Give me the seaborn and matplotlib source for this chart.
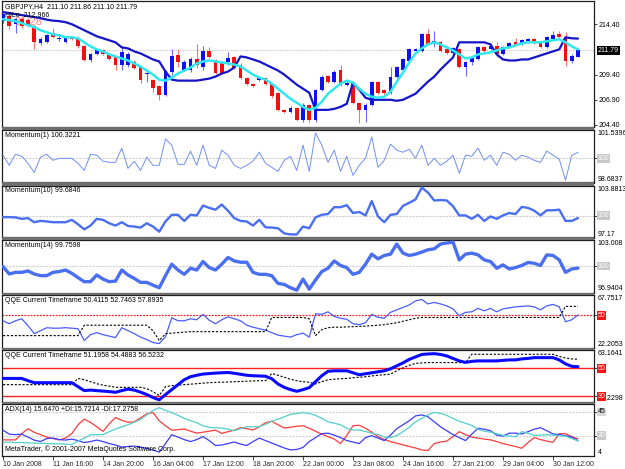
import matplotlib
matplotlib.use("Agg")
import matplotlib.pyplot as plt
import matplotlib.transforms as mtransforms
from matplotlib.patches import Rectangle
import numpy as np
import seaborn as sns

# ---- values (GBPJPY H4, 93 bars) ----
x_labels = ["10 Jan 2008", "11 Jan 16:00", "14 Jan 20:00", "16 Jan 04:00", "17 Jan 12:00",
            "18 Jan 20:00", "22 Jan 00:00", "23 Jan 08:00", "24 Jan 16:00", "27 Jan 21:00",
            "29 Jan 04:00", "30 Jan 12:00"]
x_label_bars = [0, 8, 16, 24, 32, 40, 48, 56, 64, 72, 80, 88]

opens = [214.70, 215.20, 214.40, 214.90, 214.80, 214.20, 212.50, 212.60, 213.50, 212.90,
         212.60, 213.10, 213.00, 212.20, 210.80, 211.40, 211.80, 211.40, 211.10, 210.40,
         210.40, 210.60, 210.20, 209.50, 208.90, 208.30, 207.40, 209.70, 211.30, 209.90,
         209.90, 210.90, 210.20, 211.70, 210.80, 210.60, 210.60, 211.10, 210.40, 209.10,
         208.50, 208.90, 209.10, 208.50, 207.60, 205.90, 205.70, 206.10, 204.90, 206.40,
         204.90, 207.90, 209.30, 208.70, 209.90, 208.40, 208.60, 206.60, 205.90, 206.40,
         208.70, 207.90, 207.60, 209.20, 209.90, 210.70, 211.70, 211.70, 213.40, 212.50,
         212.60, 211.90, 211.50, 211.90, 210.20, 210.60, 210.90, 212.10, 211.90, 212.20,
         211.40, 212.10, 212.60, 212.40, 212.70, 212.90, 212.50, 212.10, 212.90, 213.40,
         213.10, 210.70, 211.10]
highs = [215.55, 215.30, 215.00, 215.10, 215.00, 214.30, 213.10, 213.40, 214.00, 213.30,
         213.20, 213.20, 213.10, 212.30, 211.50, 211.90, 211.90, 211.50, 211.20, 212.20,
         211.60, 210.80, 210.30, 209.90, 209.00, 208.40, 209.90, 211.90, 211.90, 210.80,
         211.10, 212.40, 212.20, 212.10, 210.90, 210.70, 211.60, 211.20, 210.50, 209.20,
         208.60, 209.20, 209.20, 208.60, 207.70, 206.00, 206.30, 206.20, 206.60, 206.50,
         208.00, 209.40, 209.40, 209.90, 210.40, 208.80, 208.70, 206.70, 206.60, 208.80,
         208.80, 208.00, 210.20, 210.30, 211.00, 212.00, 212.00, 213.50, 213.90, 213.70,
         212.70, 212.00, 212.10, 212.00, 210.70, 211.20, 212.20, 212.20, 212.40, 212.60,
         212.20, 212.60, 213.00, 212.90, 213.00, 213.00, 212.60, 213.20, 213.70, 213.70,
         213.60, 211.40, 211.86]
lows = [214.55, 213.90, 213.50, 214.00, 214.10, 211.90, 212.30, 212.50, 213.00, 212.70,
        212.50, 212.80, 212.00, 210.70, 210.60, 211.30, 211.30, 210.80, 209.90, 209.90,
        210.20, 210.00, 208.60, 208.70, 207.70, 206.90, 207.30, 209.40, 210.20, 209.80,
        209.70, 210.10, 209.90, 211.00, 209.50, 209.50, 210.40, 210.00, 209.00, 208.40,
        208.20, 208.80, 208.40, 207.10, 205.80, 205.60, 205.60, 204.80, 204.70, 204.70,
        204.70, 207.80, 208.60, 208.60, 208.30, 208.30, 206.50, 204.60, 204.70, 206.30,
        207.50, 207.40, 207.50, 209.10, 209.80, 210.60, 211.60, 211.60, 212.30, 212.10,
        211.60, 211.40, 211.40, 210.10, 209.30, 210.40, 210.80, 211.60, 211.80, 211.10,
        211.30, 212.00, 212.20, 212.30, 212.60, 212.40, 212.00, 212.00, 212.80, 213.00,
        210.30, 210.50, 211.10]
closes = [215.40, 214.20, 214.90, 214.20, 214.30, 212.60, 212.90, 213.30, 213.10, 213.05,
          213.10, 212.90, 212.20, 210.80, 211.40, 211.80, 211.40, 210.90, 210.40, 211.60,
          211.40, 210.10, 208.90, 209.60, 208.10, 207.40, 209.80, 211.20, 210.60, 210.60,
          210.90, 210.40, 211.70, 211.10, 209.60, 209.60, 211.00, 210.10, 209.10, 208.50,
          208.30, 209.10, 208.50, 207.30, 205.90, 205.70, 206.10, 204.90, 206.40, 204.90,
          207.90, 209.20, 208.70, 209.70, 208.40, 208.60, 206.60, 205.90, 206.40, 208.70,
          207.60, 207.60, 209.20, 210.20, 210.90, 211.90, 211.90, 213.40, 212.40, 212.70,
          211.70, 211.50, 212.00, 210.20, 210.60, 211.00, 212.10, 211.70, 212.20, 211.40,
          212.10, 212.50, 212.30, 212.80, 212.90, 212.50, 212.10, 213.10, 213.30, 213.10,
          210.70, 211.20, 211.79]

ma_line = [214.90, 214.80, 214.70, 214.50, 214.30, 214.10, 213.80, 213.60, 213.40, 213.30,
           213.10, 213.10, 213.00, 212.60, 212.20, 211.90, 211.70, 211.40, 211.20, 211.00,
           210.80, 210.50, 210.20, 209.80, 209.40, 208.90, 208.80, 209.10, 209.50, 209.80,
           210.10, 210.50, 210.70, 210.80, 210.70, 210.60, 210.50, 210.40, 210.20, 209.80,
           209.40, 209.10, 208.90, 208.50, 208.00, 207.50, 207.00, 206.60, 206.20, 205.90,
           206.10, 206.70, 207.50, 208.00, 208.50, 208.80, 208.60, 208.00, 207.50, 207.20,
           207.10, 207.20, 207.70, 208.70, 209.60, 210.60, 211.50, 212.00, 212.40, 212.60,
           212.40, 212.10, 211.80, 211.40, 211.00, 211.10, 211.40, 211.50, 211.60, 211.80,
           212.00, 212.10, 212.30, 212.50, 212.60, 212.60, 212.60, 212.70, 212.80, 212.90,
           212.60, 212.20, 211.90]
hilo = [215.60, 215.50, 215.40, 215.30, 215.20, 215.10, 215.00, 214.85, 214.75, 214.70,
        214.60, 214.40, 214.10, 213.80, 213.50, 213.20, 213.00, 212.80, 212.60, 212.10,
        212.00, 211.70, 211.50, 211.20, 210.90, 210.70, 209.70, 208.90, 208.80, 208.80,
        208.80, 208.80, 208.90, 209.00, 209.20, 209.50, 209.70, 210.10, 211.20, 211.10,
        210.90, 210.70, 210.40, 210.10, 209.80, 209.40, 208.90, 208.40, 208.00, 207.60,
        205.90, 205.90, 205.90, 206.00, 206.20, 206.50, 208.60, 207.90, 207.10, 206.90,
        206.90, 206.90, 206.90, 206.80, 206.90, 207.20, 207.50, 208.10, 208.70, 209.20,
        209.90, 210.50, 211.10, 212.60, 212.60, 212.60, 212.60, 212.60, 212.40, 211.40,
        210.90, 210.80, 210.80, 210.90, 210.90, 211.10, 211.30, 211.50, 211.70, 211.90,
        213.10, 213.00, 212.97]

mom1 = [100.17, 99.62, 100.22, 100.11, 99.73, 99.23, 100.06, 100.22, 99.89, 100.00,
        100.00, 100.00, 99.73, 99.34, 100.22, 100.17, 99.84, 99.78, 99.78, 100.55,
        99.45, 99.84, 99.34, 100.06, 99.62, 99.62, 101.05, 100.72, 99.67, 99.67,
        100.39, 99.62, 100.72, 99.62, 99.45, 100.44, 100.17, 99.62, 99.45, 99.62,
        99.84, 100.33, 99.73, 99.51, 99.29, 99.89, 100.11, 99.34, 100.72, 99.29,
        101.38, 100.72, 99.78, 100.44, 99.29, 100.11, 99.07, 99.62, 100.00, 101.16,
        99.51, 99.89, 100.77, 100.44, 100.33, 100.50, 100.00, 100.72, 99.62, 100.00,
        99.62, 99.84, 100.17, 99.18, 100.17, 100.11, 100.55, 99.89, 100.17, 99.62,
        100.33, 100.22, 99.89, 100.17, 100.06, 99.89, 99.78, 100.39, 100.17, 99.95,
        98.80, 100.17, 100.32]
mom10 = [99.80, 99.80, 99.76, 99.58, 99.67, 99.14, 99.31, 99.24, 99.14, 99.14,
         99.14, 99.45, 98.88, 98.22, 98.71, 99.58, 99.45, 99.01, 98.71, 99.14,
         98.66, 98.58, 98.45, 99.01, 98.58, 97.92, 99.24, 100.10, 100.10, 99.31,
         100.10, 100.02, 101.29, 100.99, 100.76, 101.42, 100.63, 99.67, 99.31, 99.24,
         98.71, 99.45, 98.49, 98.45, 98.36, 97.70, 97.57, 97.57, 98.58, 98.36,
         99.76, 100.10, 100.20, 101.08, 101.08, 101.34, 100.33, 100.46, 100.02, 101.87,
         99.89, 99.14, 100.10, 100.20, 101.25, 101.65, 102.08, 103.62, 102.96, 101.95,
         102.00, 101.95, 101.21, 100.02, 100.02, 99.58, 100.10, 99.31, 99.89, 99.58,
         100.02, 100.33, 100.20, 101.12, 100.99, 100.63, 100.02, 100.68, 100.68, 100.76,
         99.31, 99.31, 99.68]
mom14 = [99.94, 99.08, 99.27, 99.27, 99.43, 99.08, 98.89, 98.89, 99.27, 99.36,
         99.54, 99.16, 98.66, 98.19, 98.19, 98.96, 98.49, 98.19, 98.26, 99.54,
         98.96, 98.57, 98.11, 98.11, 97.79, 97.49, 98.89, 100.21, 99.54, 99.04,
         99.74, 99.54, 100.52, 99.82, 99.54, 100.21, 100.99, 100.59, 100.44, 100.44,
         99.27, 99.04, 99.04, 98.89, 97.99, 97.87, 97.49, 97.21, 98.49, 97.33,
         98.38, 99.36, 99.74, 100.59, 100.06, 99.82, 99.04, 99.27, 100.21, 101.37,
         100.83, 101.22, 101.37, 102.54, 101.49, 101.22, 101.37, 101.61, 101.88, 101.99,
         102.54, 102.66, 102.77, 100.71, 101.37, 101.49, 101.29, 100.71, 100.52, 99.74,
         100.13, 99.66, 99.82, 100.06, 100.41, 100.32, 100.06, 101.29, 101.22, 100.71,
         99.27, 99.66, 99.76]

qqe1_rsi = [45.41, 42.83, 45.41, 47.12, 41.11, 34.23, 36.81, 39.39, 38.96, 38.96,
            39.39, 38.96, 38.53, 28.22, 33.37, 35.09, 33.37, 32.08, 30.80, 39.39,
            36.81, 34.23, 31.22, 29.08, 26.50, 25.64, 31.65, 47.98, 45.41, 45.41,
            47.12, 46.27, 50.99, 45.84, 42.83, 46.27, 48.84, 47.12, 45.41, 41.54,
            39.82, 38.53, 37.24, 35.09, 32.94, 32.08, 31.22, 33.37, 34.66, 31.22,
            51.42, 50.99, 53.14, 49.27, 47.55, 46.69, 42.83, 41.97, 43.69, 50.99,
            48.41, 47.55, 52.71, 54.86, 57.01, 59.16, 62.59, 63.88, 60.02, 61.30,
            60.02, 58.30, 55.72, 49.70, 52.71, 53.14, 56.15, 54.00, 56.15, 53.14,
            55.72, 56.58, 57.44, 57.87, 58.30, 57.44, 54.86, 58.30, 59.59, 57.44,
            44.55, 46.27, 50.41]
qqe1_trail = [32.51] * 13 + [41.54] * 11 + [36.81, 28.22, 34.23, 34.66, 35.09, 35.52] + [35.95] * 13 + \
             [48.24] * 6 + [47.12, 32.51, 37.67, 39.39, 39.82, 39.82, 40.08, 40.25, 40.51, 40.76,
                            41.11, 41.54, 41.97, 42.83, 43.69, 44.98, 46.27, 47.55] + [48.24] * 23 + [57.89] * 3

qqe2_rsi = [42.78, 42.78, 42.78, 42.78, 41.15, 39.72, 39.72, 39.72, 39.72, 39.72,
            39.72, 39.72, 36.88, 34.04, 34.40, 34.04, 33.69, 33.33, 32.83, 34.04,
            35.11, 34.40, 32.98, 31.20, 29.07, 27.44, 31.20, 34.75, 38.30, 41.85,
            43.99, 45.05, 45.90, 46.26, 46.61, 46.83, 47.04, 46.47, 45.76, 45.05,
            44.70, 44.55, 44.34, 42.56, 38.80, 36.39, 34.75, 33.54, 34.75, 36.17,
            40.43, 44.70, 47.89, 48.25, 48.25, 48.25, 46.83, 45.41, 46.12, 46.83,
            47.54, 48.25, 49.67, 51.80, 53.93, 56.42, 58.19, 59.97, 60.32, 60.53,
            59.97, 58.90, 57.13, 55.35, 54.28, 55.00, 55.35, 55.35, 55.35, 55.35,
            55.71, 56.06, 56.06, 56.77, 57.13, 57.69, 57.69, 57.69, 57.69, 56.06,
            53.22, 51.44, 51.20]
qqe2_trail = [38.30] * 12 + [42.78, 41.85, 40.43, 39.01, 37.95, 37.24, 36.39, 36.39, 36.39, 36.39,
                             36.39, 35.46, 33.33, 30.49, 36.88, 37.59, 37.95, 38.30, 38.66, 39.01,
                             39.37, 39.72, 39.94, 40.08, 40.22, 40.43, 40.58, 40.79, 40.93, 41.15,
                             41.15, 46.33, 45.05, 43.63, 42.21, 41.15, 40.43, 40.08, 38.80, 40.43,
                             41.85, 42.21, 42.56, 42.78, 43.27, 43.63, 43.99, 44.55, 45.05, 45.41,
                             45.90, 48.25, 50.38, 52.15, 53.57, 53.93] + [54.14] * 7 + [60.11] * 14 + \
             [58.55, 57.48, 56.77, 56.52]

adx_main = [14.46, 14.63, 14.21, 14.21, 13.96, 13.71, 13.55, 13.38, 13.21, 13.13,
            12.88, 12.55, 15.46, 17.96, 20.71, 20.88, 20.88, 23.38, 25.62, 27.37,
            29.21, 31.29, 33.79, 37.54, 41.29, 43.62, 41.29, 39.45, 37.12, 34.62,
            32.71, 30.87, 28.37, 26.96, 26.71, 26.46, 25.46, 24.21, 25.88, 27.54,
            27.54, 27.54, 29.62, 32.12, 33.95, 35.87, 37.95, 38.79, 39.45, 38.79,
            37.12, 34.62, 31.71, 30.46, 29.21, 26.29, 24.79, 24.79, 23.54, 22.13,
            20.88, 18.79, 18.38, 20.04, 23.38, 27.12, 31.71, 34.62, 37.54, 39.62,
            38.79, 37.12, 34.62, 32.12, 30.46, 28.62, 25.46, 23.79, 22.96, 21.71,
            20.29, 19.63, 19.21, 23.38, 22.13, 20.21, 20.46, 20.88, 20.46, 20.04,
            19.63, 17.55, 15.65]
adx_plus = [24.62, 21.29, 20.88, 21.29, 18.79, 16.30, 15.05, 17.55, 17.96, 16.71,
            16.30, 17.13, 15.88, 14.21, 15.05, 16.30, 15.05, 13.38, 12.13, 10.46,
            10.88, 11.30, 10.46, 9.22, 7.97, 6.13, 13.38, 20.88, 18.79, 16.71,
            15.05, 16.71, 19.21, 15.88, 11.71, 12.13, 13.38, 14.63, 12.96, 11.71,
            15.05, 17.96, 15.88, 13.80, 11.71, 9.63, 7.97, 8.38, 10.05, 15.05,
            18.38, 21.71, 22.13, 20.46, 18.38, 15.88, 14.63, 13.38, 18.38, 20.04,
            17.96, 15.88, 20.46, 25.88, 29.21, 32.54, 36.70, 37.54, 35.87, 31.71,
            27.54, 24.21, 20.88, 18.38, 15.88, 21.29, 26.29, 25.46, 24.21, 20.46,
            19.63, 22.13, 22.13, 21.46, 23.38, 25.46, 26.71, 24.21, 21.46, 20.88,
            20.04, 18.79, 15.72]
adx_minus = [16.46, 16.46, 16.46, 21.71, 25.88, 22.79, 20.88, 18.79, 17.55, 16.46,
             17.96, 21.71, 29.21, 33.95, 31.12, 27.54, 23.63, 30.04, 35.29, 32.96,
             31.29, 31.71, 35.04, 38.37, 39.45, 32.54, 28.37, 24.62, 25.04, 25.62,
             23.79, 22.13, 22.96, 23.79, 24.62, 21.96, 23.38, 24.62, 26.71, 25.88,
             24.79, 27.54, 30.87, 32.12, 29.21, 26.46, 27.12, 27.96, 28.37, 26.29,
             23.79, 21.29, 19.21, 17.13, 13.38, 20.04, 28.37, 28.79, 26.29, 22.96,
             19.21, 16.71, 15.05, 13.63, 12.30, 10.88, 9.63, 7.97, 7.55, 13.38,
             14.63, 15.46, 19.21, 23.38, 20.88, 18.79, 17.96, 17.13, 16.46, 15.05,
             13.38, 12.13, 10.88, 9.38, 14.21, 18.38, 16.71, 15.46, 14.46, 21.71,
             21.71, 19.21, 17.28]

bars = np.arange(len(closes))

# ---- layout ----
sns.set_theme(style="white")
plt.rcParams['font.family'] = ['Liberation Sans', 'DejaVu Sans']
FS = 5

W, H = 625, 469
fig = plt.figure(figsize=(6.25, 4.69), dpi=100)
fig.patch.set_facecolor("white")

X0, X1 = 2, 594
xlim = ((X0 - 3) / 6.25, (X1 - 3) / 6.25)


def panel(top, bottom, ylim):
    ax = fig.add_axes([X0 / W, (H - bottom) / H, (X1 - X0) / W, (bottom - top) / H])
    ax.set_facecolor("white")
    ax.set_xlim(*xlim)
    ax.set_ylim(*ylim)
    for s in ax.spines.values():
        s.set_color("#202020")
        s.set_linewidth(0.9)
    ax.set_xticks([])
    ax.yaxis.tick_right()
    ax.tick_params(axis="y", length=2, width=0.6, color="#202020", labelsize=FS, pad=1,
                   labelcolor="black")
    return ax


bounds = [(1, 127), (130, 182.5), (185.5, 237.5), (240, 292.5), (295, 347.5), (350, 401.5), (404, 455.5)]
# dark grey separators between windows
for (t0, b0), (t1, b1) in zip(bounds[:-1], bounds[1:]):
    fig.patches.append(Rectangle((X0 / W, (H - t1) / H), (X1 - X0) / W, (t1 - b0) / H,
                                 transform=fig.transFigure, fc="#6e6e6e", ec="none", zorder=0))

ax_main = panel(*bounds[0], (204.2, 216.7))
ax_m1 = panel(*bounds[1], (98.6837, 101.5396))
ax_m10 = panel(*bounds[2], (97.17, 103.8813))
ax_m14 = panel(*bounds[3], (96.9404, 103.008))
ax_q1 = panel(*bounds[4], (22.2053, 67.7517))
ax_q2 = panel(*bounds[5], (26.2298, 63.1641))
ax_adx = panel(*bounds[6], (3.3, 46.7))


def rlabel(ax, y, s, va="center", fc=None, color="black"):
    tr = mtransforms.blended_transform_factory(ax.transAxes, ax.transData)
    kw = {}
    if fc is not None:
        kw["bbox"] = dict(boxstyle="square,pad=0.12", fc=fc, ec="none")
    ax.text(1.006, y, s, transform=tr, fontsize=FS, va=va, ha="left", color=color, **kw)


def title(ax, s, y=0.97):
    ax.text(0.005, y, s, transform=ax.transAxes, fontsize=FS, va="top", ha="left", color="black", zorder=5)


# ---- main chart: candles + MA + HiLo ----
ax = ax_main
ax.text(0.022, 0.83, "31:28", transform=ax.transAxes, fontsize=8, color="#ff8080", va="center",
        ha="left", zorder=1)
up = [c >= o for o, c in zip(opens, closes)]
body_col = ["#1010f0" if u else "#f01010" for u in up]
wick_col = ["#6a6aff" if u else "#ff7070" for u in up]
ax.vlines(bars, lows, highs, colors=wick_col, lw=0.8, zorder=2)
body_lo = [min(o, c) for o, c in zip(opens, closes)]
body_h = [max(abs(c - o), 0.06) for o, c in zip(opens, closes)]
ax.bar(bars, body_h, bottom=body_lo, width=0.58, color=body_col, lw=0, zorder=3)
sns.lineplot(x=bars, y=hilo, ax=ax, color="#1414c8", lw=1.6, legend=False, zorder=4)
sns.lineplot(x=bars, y=ma_line, ax=ax, color="#30e8f0", lw=1.8, legend=False, zorder=4)
ax.axhline(closes[-1], color="#c4c4c4", lw=0.8, ls=(0, (1, 1)), zorder=1)
ax.set_yticks([214.40, 209.40, 206.90, 204.40])
ax.set_yticklabels(["214.40", "209.40", "206.90", "204.40"])
rlabel(ax, closes[-1], "211.79", fc="black", color="white")
title(ax, "GBPJPY,H4  211.10 211.86 211.10 211.79", y=0.985)
title(ax, "HiLo  212.966", y=0.915)

# ---- momentum windows ----
for axm, vals, lw, col, name, top, bot in [
        (ax_m1, mom1, 0.7, "#6f8ff5", "Momentum(1) 100.3221", "101.5396", "98.6837"),
        (ax_m10, mom10, 1.7, "#4a6ef0", "Momentum(10) 99.6846", "103.8813", "97.17"),
        (ax_m14, mom14, 2.4, "#4a6ef0", "Momentum(14) 99.7598", "103.008", "96.9404")]:
    axm.axhline(100, color="#cfcfcf", lw=0.8, ls=(0, (2, 1)), zorder=1)
    sns.lineplot(x=bars, y=vals, ax=axm, color=col, lw=lw, legend=False, zorder=3)
    axm.set_yticks([100])
    axm.set_yticklabels([""])
    lo, hi = axm.get_ylim()
    rlabel(axm, hi, top, va="top")
    rlabel(axm, lo, bot, va="bottom")
    rlabel(axm, 100, "100", fc="#c8c8c8", color="white")
    title(axm, name)

# ---- QQE windows ----
ax_q1.axhline(50, color="#ff2020", lw=0.9, ls=(0, (1.5, 1)), zorder=1)
sns.lineplot(x=bars, y=qqe1_rsi, ax=ax_q1, color="#4a5cff", lw=0.9, legend=False, zorder=3)
sns.lineplot(x=bars, y=qqe1_trail, ax=ax_q1, color="black", lw=0.8, linestyle=(0, (2, 1.5)),
             legend=False, zorder=3)
ax_q1.set_yticks([50])
ax_q1.set_yticklabels([""])
rlabel(ax_q1, 67.7517, "67.7517", va="top")
rlabel(ax_q1, 22.2053, "22.2053", va="bottom")
rlabel(ax_q1, 50, "50", fc="#ff1010", color="white")
title(ax_q1, "QQE Current Timeframe 50.4115 52.7463 57.8935")

ax_q2.axhline(50, color="#ff2020", lw=1.0, zorder=1)
ax_q2.axhline(30, color="#ff2020", lw=1.0, zorder=1)
sns.lineplot(x=bars, y=qqe2_trail, ax=ax_q2, color="black", lw=0.8, linestyle=(0, (2, 1.5)),
             legend=False, zorder=3)
sns.lineplot(x=bars, y=qqe2_rsi, ax=ax_q2, color="#0a0aff", lw=2.2, legend=False, zorder=4)
ax_q2.set_yticks([50, 30])
ax_q2.set_yticklabels(["", ""])
rlabel(ax_q2, 63.1641, "63.1641", va="top")
rlabel(ax_q2, 26.2298, "26.2298", va="bottom")
rlabel(ax_q2, 50, "50", fc="#ff1010", color="white")
rlabel(ax_q2, 30, "30", fc="#ff1010", color="white")
title(ax_q2, "QQE Current Timeframe 51.1958 54.4883 56.5232")

# ---- ADX window ----
ax = ax_adx
ax.axhline(40, color="#d0d0d0", lw=0.8, ls=(0, (2, 1)), zorder=1)
ax.axhline(20, color="#d0d0d0", lw=0.8, ls=(0, (2, 1)), zorder=1)
sns.lineplot(x=bars, y=adx_minus, ax=ax, color="#ff3c3c", lw=0.9, legend=False, zorder=3)
sns.lineplot(x=bars, y=adx_plus, ax=ax, color="#3c3cff", lw=0.9, legend=False, zorder=3)
sns.lineplot(x=bars, y=adx_main, ax=ax, color="#50d0c8", lw=0.9, legend=False, zorder=3)
ax.set_yticks([40, 20])
ax.set_yticklabels(["", ""])
rlabel(ax, 40, "45", fc="#d8d8d8")
rlabel(ax, 20, "20", fc="#c8c8c8", color="white")
rlabel(ax, 3.3, "4", va="bottom")
title(ax, "ADX(14) 15.6470 +DI:15.7214 -DI:17.2758")
ax.text(0.005, 0.04, "MetaTrader, \u00a9 2001-2007 MetaQuotes Software Corp.", transform=ax.transAxes,
        fontsize=FS, va="bottom", ha="left", color="black")
ax.set_xticks(x_label_bars)
ax.set_xticklabels(x_labels, ha="left")
ax.tick_params(axis="x", bottom=True, length=3, width=0.6, color="#202020", labelsize=FS, pad=1)

fig.savefig("out.png", dpi=100, facecolor="white")
